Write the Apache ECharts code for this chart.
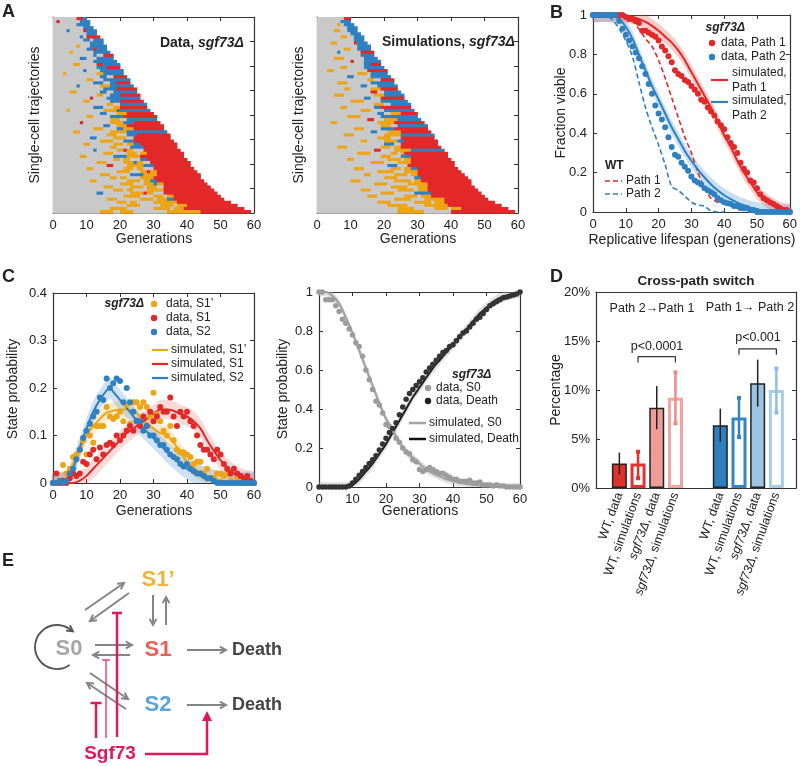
<!DOCTYPE html>
<html>
<head>
<meta charset="utf-8">
<script src="https://cdn.jsdelivr.net/npm/echarts@6.0.0/dist/echarts.min.js"></script>
<style>
  html, body { margin: 0; background: #fff; }
  #chart { width: 800px; height: 766px; }
</style>
</head>
<body>
<div id="chart"></div>
<script>
const FONT = '"Liberation Sans", Arial, Helvetica, sans-serif'
const INK = '#222'

// ---- A: single-cell trajectories, one string per cell (count + state: g=S0, o=S1', r=S1, b=S2)
const dataRows = [
  '7g 2r 1b', '1g 1r 6g 3b', '7g 4b', '9g 3b', '4g 1b 4g 1r 3b', '10g 3b', '8g 1b 1g 4r', '9g 2b 1g 3b',
  '11g 4b', '7g 1o 3g 5b', '10g 2b 1r 3b', '5g 1o 6g 5b', '12g 1b 2g 3r', '8g 2b 3g 5b', '12g 7b', '6g 2o 5g 2r 5b',
  '13g 3b 4r', '9g 1b 4g 7b', '3g 1o 9g 2o 6b', '14g 2b 2g 4r', '10g 2o 3g 8b', '12g 3b 2g 2b 4r', '7g 1b 6g 3o 7b', '15g 4b 6r',
  '5g 2o 7g 2b 2g 7b', '13g 2o 2g 3b 6r', '11g 1r 4g 10b', '9g 2o 6g 3b 7r', '16g 2o 2g 8b', '12g 3b 3g 2o 8r', '4g 1o 10g 4o 10b', '14g 2b 3g 3o 8r',
  '10g 2o 5g 4b 10r', '17g 3o 2g 9b', '8g 1r 8g 4o 3b 8r', '15g 2b 2g 3o 11r', '12g 3o 4g 2b 3o 9r', '6g 2o 9g 5o 12b', '16g 3o 3g 3b 10r', '11g 2b 5g 4o 2g 11r',
  '14g 4o 3g 3b 12r', '9g 2o 7g 3o 1g 2o 2b 11r', '17g 2o 4g 4b 10r', '12g 1b 6g 2o 1r 2o 3g 11r', '15g 3o 4g 3o 1g 2o 11r', '8g 2o 8g 4b 4o 13r', '18g 2o 1g 2o 3g 2b 12r', '13g 3o 5g 3o 1b 2o 2g 12r',
  '16g 2r 4g 5o 3b 11r', '10g 2o 9g 3o 1g 2o 3g 12r', '19g 4o 3g 2o 1r 2o 12r', '14g 3o 6g 4b 4o 13r', '17g 2o 1g 2o 4g 4o 14r', '11g 2o 9g 4o 1g 2o 2b 14r', '20g 4o 3g 3o 1b 2o 13r', '15g 3o 5g 4o 1g 3o 2g 14r',
  '18g 3o 1g 2o 4g 5o 15r', '13g 2b 8g 4o 1r 2o 3g 16r', '21g 5o 4g 3o 1g 2o 14r', '16g 3o 7g 4o 1g 3o 2b 15r', '19g 3o 1g 2o 5g 7o 16r', '22g 4o 6g 4o 1g 3o 15r', '17g 5o 8g 5o 1g 3o 18r', '14g 4o 2g 4o 10g 10o 15r'
]
const simRows = [
  '8g 2r', '7g 3b', '6g 1o 1g 3b', '9g 3b', '5g 2o 2g 3b', '10g 3b', '7g 2o 2g 3b', '11g 3b',
  '4g 2o 5g 1r 3b', '12g 4b', '8g 2o 2g 4b', '6g 1b 6g 4r', '13g 4b', '5g 3o 6g 4b', '10g 1r 3g 5b', '14g 2b 3r',
  '7g 2o 5g 6b', '3g 2o 10g 6r', '12g 3o 1g 5b', '9g 2b 5g 6b', '15g 2o 2g 4r', '6g 3o 7g 7b', '13g 2b 3g 6b', '8g 2o 6g 3o 5r',
  '16g 2r 2g 5b', '5g 3o 9g 3o 6b', '14g 2b 3g 7r', '10g 4o 5g 8b', '17g 3o 2g 6b', '7g 2o 8g 2b 9r', '13g 3o 4g 9b', '18g 2b 2g 3o 5r',
  '9g 4o 6g 11b', '15g 2r 3g 4o 7b', '4g 2o 12g 5o 9r', '19g 3o 2g 9b', '11g 3o 5g 4b 10r', '16g 2b 3g 4o 9r', '8g 3o 9g 5o 10b', '18g 4o 3g 10r',
  '13g 2o 5g 4o 2b 10r', '20g 3b 2g 11r', '6g 3o 10g 3o 1g 2o 12r', '17g 2r 4g 5o 10b', '12g 4o 6g 2o 1g 1o 13r', '19g 3o 3g 3b 11r', '9g 2o 10g 4o 1g 2o 12r', '16g 4o 4g 4o 13r',
  '21g 3b 3g 14r', '11g 3o 8g 3o 1g 2o 2b 12r', '18g 5o 3g 4o 13r', '14g 2o 7g 4o 1g 2o 14r', '20g 4o 5g 2b 14r', '10g 3o 10g 5o 1g 2o 15r', '17g 4o 6g 6o 13r', '22g 5o 3g 3o 14r',
  '13g 3o 8g 5o 1g 3o 15r', '19g 4o 6g 5b 15r', '15g 3o 8g 4o 1g 3o 16r', '23g 5o 4g 6o 13r', '18g 4o 7g 5o 1g 3o 15r', '21g 6o 5g 7o 16r', '24g 5o 6g 4o 1g 3o 14r', '24g 8o 8g 19r'
]

// ---- B: fraction viable (data one point per generation 0..60, simulations every 2 gens)
const bPath1 = [1, 1, 1, 1, 1, 1, 1, 1, 1, 1, 0.99, 0.98, 0.98, 0.97, 0.96, 0.92, 0.92, 0.91, 0.9, 0.89,
  0.87, 0.84, 0.82, 0.79, 0.76, 0.72, 0.7, 0.69, 0.67, 0.66, 0.64, 0.62, 0.6, 0.57, 0.56, 0.53, 0.51, 0.49, 0.46, 0.44,
  0.42, 0.38, 0.35, 0.33, 0.3, 0.25, 0.22, 0.2, 0.16, 0.15, 0.12, 0.09, 0.07, 0.06, 0.05, 0.04, 0.03, 0.02, 0.01, 0.01, 0]
const bPath2 = [1, 1, 1, 1, 1, 1, 1, 1, 0.97, 0.93, 0.9, 0.87, 0.84, 0.81, 0.78, 0.74, 0.7, 0.65, 0.6, 0.54,
  0.5, 0.47, 0.43, 0.38, 0.33, 0.29, 0.28, 0.25, 0.23, 0.21, 0.18, 0.16, 0.15, 0.14, 0.12, 0.11, 0.1, 0.09, 0.07, 0.06,
  0.05, 0.045, 0.04, 0.03, 0.03, 0.02, 0.02, 0.02, 0.01, 0.01, 0, 0, 0, 0, 0, 0, 0, 0, 0, 0, 0]
const simGens = [0, 2, 4, 6, 8, 10, 12, 14, 16, 18, 20, 22, 24, 26, 28, 30, 32, 34, 36, 38, 40, 42, 44, 46, 48, 50, 52, 54, 56, 58, 60]
const bSim1 = [1, 1, 1, 1, 1, 0.995, 0.99, 0.98, 0.965, 0.945, 0.92, 0.89, 0.86, 0.82, 0.77, 0.71, 0.65, 0.59, 0.53, 0.46,
  0.39, 0.33, 0.26, 0.2, 0.15, 0.1, 0.07, 0.045, 0.025, 0.012, 0.005]
const bSim2 = [1, 1, 1, 0.995, 0.98, 0.94, 0.88, 0.8, 0.72, 0.64, 0.57, 0.5, 0.43, 0.37, 0.31, 0.26, 0.215, 0.175, 0.14, 0.11,
  0.085, 0.065, 0.048, 0.034, 0.022, 0.014, 0.008, 0.005, 0.003, 0.001, 0]
const wtGens1 = [0, 2, 4, 6, 8, 10, 12, 14, 16, 18, 20, 22, 24, 26, 28, 30, 32, 34, 36, 38, 40, 42, 44, 46, 48, 50]
const wtPath1 = [1, 1, 1, 1, 1, 0.99, 0.97, 0.93, 0.88, 0.84, 0.77, 0.68, 0.58, 0.48, 0.38, 0.3, 0.2, 0.12, 0.07, 0.05,
  0.045, 0.04, 0.03, 0.02, 0.005, 0]
const wtGens2 = [0, 2, 4, 6, 8, 10, 12, 14, 16, 18, 20, 22, 24, 26, 28, 30, 32, 34, 36, 38, 40]
const wtPath2 = [1, 1, 0.995, 0.975, 0.93, 0.87, 0.79, 0.66, 0.53, 0.43, 0.34, 0.24, 0.13, 0.11, 0.08, 0.05, 0.035, 0.03, 0.005, 0, 0]

// ---- C: state probabilities
const cS1p = [0, 0, 0.005, 0.038, 0.02, 0.03, 0.055, 0.06, 0.07, 0.09, 0.06, 0.1, 0.085, 0.12, 0.12, 0.12, 0.16, 0.14, 0.135, 0.14,
  0.15, 0.13, 0.165, 0.125, 0.17, 0.17, 0.16, 0.17, 0.16, 0.14, 0.19, 0.145, 0.13, 0.11, 0.1, 0.12, 0.09, 0.07, 0.065, 0.065,
  0.06, 0.055, 0.04, 0.045, 0.045, 0.02, 0.03, 0.01, 0.01, 0.02, 0.02, 0.015, 0.02, 0.005, 0, 0.01, 0, 0, 0, 0, 0]
const cS1 = [0, 0.02, 0, 0.005, 0, 0.01, 0.02, 0.015, 0.02, 0.045, 0.04, 0.06, 0.07, 0.05, 0.075, 0.06, 0.08, 0.085, 0.08, 0.1,
  0.09, 0.1, 0.11, 0.12, 0.11, 0.13, 0.12, 0.14, 0.12, 0.15, 0.13, 0.14, 0.16, 0.15, 0.15, 0.18, 0.14, 0.12, 0.15, 0.14,
  0.15, 0.13, 0.12, 0.1, 0.08, 0.07, 0.07, 0.06, 0.05, 0.07, 0.06, 0.04, 0.03, 0.02, 0.03, 0.02, 0.015, 0.01, 0.015, 0.005, 0]
const cS2 = [0, 0, 0.005, 0, 0.005, 0.02, 0.03, 0.05, 0.07, 0.095, 0.11, 0.125, 0.14, 0.15, 0.18, 0.175, 0.22, 0.2, 0.21, 0.22,
  0.215, 0.17, 0.2, 0.17, 0.15, 0.13, 0.13, 0.11, 0.12, 0.1, 0.1, 0.09, 0.08, 0.08, 0.07, 0.06, 0.055, 0.05, 0.04, 0.035,
  0.04, 0.03, 0.025, 0.02, 0.02, 0.015, 0.01, 0.01, 0.005, 0, 0, 0, 0, 0, 0, 0, 0, 0, 0, 0, 0]
const cSimGensA = [0, 4, 6, 8, 10, 12, 14, 16, 18, 20, 22, 24, 26, 28, 30, 32, 34, 36, 38, 40, 42, 44, 46, 48, 50, 55, 60]
const cSimS1p = [0, 0.01, 0.04, 0.07, 0.1, 0.12, 0.135, 0.148, 0.152, 0.155, 0.155, 0.152, 0.14, 0.125, 0.115, 0.105, 0.1, 0.085,
  0.065, 0.045, 0.032, 0.022, 0.015, 0.01, 0.006, 0.002, 0]
const cSimGensB = [0, 6, 8, 10, 12, 14, 16, 18, 20, 22, 24, 26, 28, 30, 32, 34, 36, 38, 40, 42, 44, 46, 48, 50, 52, 54, 56, 58, 60]
const cSimS1 = [0, 0, 0.005, 0.015, 0.03, 0.045, 0.06, 0.075, 0.09, 0.105, 0.115, 0.125, 0.135, 0.145, 0.155, 0.155, 0.152, 0.145,
  0.14, 0.13, 0.115, 0.09, 0.068, 0.048, 0.032, 0.02, 0.012, 0.007, 0.004]
const cSimGensC = [0, 4, 6, 8, 10, 12, 14, 16, 17, 18, 20, 22, 24, 26, 28, 30, 32, 34, 36, 38, 40, 42, 44, 46, 48, 50, 55, 60]
const cSimS2 = [0, 0.003, 0.03, 0.075, 0.115, 0.15, 0.175, 0.195, 0.2, 0.192, 0.175, 0.158, 0.14, 0.123, 0.108, 0.094, 0.08, 0.065,
  0.052, 0.04, 0.03, 0.022, 0.015, 0.01, 0.006, 0.003, 0.001, 0]
const cS0 = [1, 1, 0.96, 0.96, 0.96, 0.93, 0.9, 0.86, 0.84, 0.81, 0.78, 0.74, 0.72, 0.67, 0.6, 0.55, 0.5, 0.44, 0.42, 0.38,
  0.32, 0.31, 0.29, 0.25, 0.23, 0.2, 0.18, 0.17, 0.14, 0.13, 0.09, 0.08, 0.09, 0.1, 0.09, 0.08, 0.07, 0.07, 0.06, 0.05,
  0.04, 0.04, 0.03, 0.03, 0.03, 0.035, 0.02, 0.02, 0.026, 0.01, 0.01, 0.01, 0.005, 0.01, 0.005, 0.005, 0, 0, 0, 0, 0]
const cDeath = [0, 0, 0, 0, 0, 0, 0, 0, 0, 0.005, 0.02, 0.04, 0.06, 0.08, 0.1, 0.12, 0.14, 0.16, 0.19, 0.22,
  0.25, 0.28, 0.3, 0.33, 0.37, 0.41, 0.45, 0.48, 0.5, 0.52, 0.54, 0.56, 0.59, 0.61, 0.63, 0.65, 0.67, 0.69, 0.7, 0.72,
  0.73, 0.75, 0.77, 0.79, 0.8, 0.82, 0.84, 0.86, 0.87, 0.89, 0.91, 0.93, 0.94, 0.95, 0.96, 0.97, 0.975, 0.98, 0.985, 0.99, 1]
const cSimS0 = [1, 1, 0.98, 0.94, 0.87, 0.79, 0.7, 0.61, 0.52, 0.43, 0.35, 0.29, 0.23, 0.18, 0.15, 0.12, 0.09, 0.07, 0.055, 0.04,
  0.03, 0.022, 0.016, 0.011, 0.008, 0.005, 0.003, 0.002, 0.001, 0.0005, 0]
const cSimDeath = [0, 0, 0, 0, 0, 0.01, 0.04, 0.08, 0.12, 0.17, 0.22, 0.28, 0.34, 0.4, 0.46, 0.51, 0.56, 0.61, 0.65, 0.69,
  0.73, 0.77, 0.81, 0.85, 0.89, 0.92, 0.95, 0.97, 0.98, 0.99, 1]

// ---- D: cross-path switch (%)
const dNames = ['WT, data', 'WT, simulations', 'sgf73Δ, data', 'sgf73Δ, simulations',
  'WT, data', 'WT, simulations', 'sgf73Δ, data', 'sgf73Δ, simulations']
const dValue = [2.5, 2.5, 8.2, 9.2, 6.4, 7.2, 10.7, 10.0]
const dLow = [1.4, 1.0, 6.0, 6.6, 4.7, 5.2, 8.3, 7.7]
const dHigh = [3.6, 3.7, 10.4, 11.8, 8.1, 9.2, 13.1, 12.2]

// layout of the bar slots and styles
const barSlots = [1, 2, 3, 4, 6.4, 7.4, 8.4, 9.4]
const RED = '#e3282a', BLUE = '#2f80c1', ORANGE = '#eda416'
const stateFill = ['#c9c9c9', ORANGE, RED, BLUE]
const barStyles = [
  { color: '#e0302a', borderColor: '#222', borderWidth: 1.5 },
  { color: '#fff', borderColor: '#e53030', borderWidth: 3 },
  { color: '#ef9c98', borderColor: '#222', borderWidth: 1.5 },
  { color: '#fff', borderColor: '#f3a3a0', borderWidth: 3 },
  { color: '#2f7fbf', borderColor: '#222', borderWidth: 1.5 },
  { color: '#fff', borderColor: '#3585c5', borderWidth: 3 },
  { color: '#9bc3e3', borderColor: '#222', borderWidth: 1.5 },
  { color: '#fff', borderColor: '#a8cce8', borderWidth: 3 }
]
const errColors = ['#222', '#e53030', '#222', '#f08a8a', '#222', '#3585c5', '#222', '#8fbde3']

const grids = [], xAxes = [], yAxes = [], series = []
const axLine = { onZero: false, lineStyle: { color: '#333', width: 1.2 } }
const axTick = { inside: true, length: 4, lineStyle: { color: '#333', width: 1 } }
const axLabel = { color: INK, fontSize: 13, fontFamily: FONT, margin: 6 }

function panel(rect, xr, yr, showYLabels) {
  const g = grids.length
  grids.push({ left: rect[0], top: rect[1], width: rect[2], height: rect[3] })
  const base = { gridIndex: g, type: 'value', axisLine: axLine, axisTick: axTick, splitLine: { show: false } }
  xAxes.push(Object.assign({}, base, { position: 'bottom', axisLabel: axLabel }, xr))
  xAxes.push(Object.assign({}, base, { position: 'top' }, xr, { axisLabel: { show: false } }))
  yAxes.push(Object.assign({}, base, { position: 'left', axisLabel: Object.assign({ show: showYLabels }, axLabel) }, yr))
  yAxes.push(Object.assign({}, base, { position: 'right' }, yr, { axisLabel: { show: false } }))
  return g
}

function segments(rows) {
  const out = []
  rows.forEach((row, i) => {
    let x = 0
    row.split(' ').forEach((tok) => {
      const n = parseInt(tok, 10)
      out.push([x, i, n, 'gorb'.indexOf(tok.slice(-1))])
      x += n
    })
  })
  return out
}

function trajSeries(g, rows) {
  return {
    type: 'custom', xAxisIndex: 2 * g, yAxisIndex: 2 * g, silent: true,
    data: segments(rows), encode: { x: 0, y: 1 },
    renderItem: (params, api) => {
      const x0 = api.value(0), r = api.value(1), n = api.value(2)
      const p1 = api.coord([x0, r]), p2 = api.coord([x0 + n, r + 1])
      return {
        type: 'rect',
        shape: { x: p1[0], y: Math.min(p1[1], p2[1]), width: p2[0] - p1[0] + 0.4, height: Math.abs(p2[1] - p1[1]) + 0.8 },
        style: { fill: stateFill[api.value(3)] }
      }
    }
  }
}

function pairs(xs, ys) { return ys.map((y, i) => [xs[i], y]) }
function gens(ys) { return ys.map((y, i) => [i, y]) }

function band(g, xs, ys, w, color, hiCap) {
  return {
    type: 'custom', xAxisIndex: 2 * g, yAxisIndex: 2 * g, silent: true, z: 1,
    data: [[xs[0], ys[0]]],
    renderItem: (params, api) => {
      const up = xs.map((x, i) => api.coord([x, Math.min(ys[i] + w, hiCap)]))
      const dn = xs.map((x, i) => api.coord([x, Math.max(ys[i] - w, 0)])).reverse()
      return { type: 'polygon', shape: { points: up.concat(dn), smooth: 0.3 }, style: { fill: color } }
    }
  }
}
function simLine(g, xs, ys, color, width, dash) {
  return {
    type: 'line', xAxisIndex: 2 * g, yAxisIndex: 2 * g, data: pairs(xs, ys), showSymbol: false, silent: true,
    smooth: 0.3, z: 3, lineStyle: { color, width, type: dash || 'solid' }
  }
}
function dots(g, ys, color, size) {
  return {
    type: 'scatter', xAxisIndex: 2 * g, yAxisIndex: 2 * g, data: gens(ys), symbolSize: size || 6, silent: true,
    z: 4, itemStyle: { color, opacity: 1 }
  }
}

// panels
const gA1 = panel([53, 17, 201, 196], { min: 0, max: 60, interval: 10 }, { min: 0, max: 64, interval: 8, inverse: true }, false)
const gA2 = panel([317, 17, 201, 196], { min: 0, max: 60, interval: 10 }, { min: 0, max: 64, interval: 8, inverse: true }, false)
const gB = panel([593, 15, 199, 197], { min: 0, max: 60, interval: 10 }, { min: 0, max: 1, interval: 0.2 }, true)
const gC1 = panel([53, 293, 201, 190], { min: 0, max: 60, interval: 10 }, { min: 0, max: 0.4, interval: 0.1 }, true)
const gC2 = panel([319, 292, 201, 195], { min: 0, max: 60, interval: 10 }, { min: 0, max: 1, interval: 0.2 }, true)
const gD = panel([596, 292, 200, 196], { min: -0.25, max: 10.45 }, { min: 0, max: 20, interval: 5 }, true)

// D axes tweaks
xAxes[2 * gD].axisTick = { show: false }
xAxes[2 * gD].axisLabel = {
  customValues: barSlots, rotate: 70, margin: 5, color: INK, fontSize: 12.5, fontFamily: FONT,
  formatter: (v) => {
    const name = dNames[barSlots.findIndex((s) => Math.abs(s - v) < 1e-6)] || ''
    return name.replace('sgf73Δ', '{i|sgf73Δ}')
  },
  rich: { i: { fontStyle: 'italic', fontSize: 12.5, fontFamily: FONT, color: INK } }
}
xAxes[2 * gD + 1].axisTick = { show: false }
yAxes[2 * gD].axisLabel = Object.assign({}, axLabel, { formatter: '{value}%' })

series.push(trajSeries(gA1, dataRows), trajSeries(gA2, simRows))

series.push(
  band(gB, simGens, bSim1, 0.035, 'rgba(232,70,60,0.28)', 1),
  band(gB, simGens, bSim2, 0.035, 'rgba(60,140,210,0.28)', 1),
  simLine(gB, wtGens1, wtPath1, RED, 1.6, [5, 3]),
  simLine(gB, wtGens2, wtPath2, BLUE, 1.6, [5, 3]),
  simLine(gB, simGens, bSim1, RED, 2),
  simLine(gB, simGens, bSim2, BLUE, 2),
  dots(gB, bPath1, RED, 6),
  dots(gB, bPath2, BLUE, 6)
)

series.push(
  band(gC1, cSimGensA, cSimS1p, 0.018, 'rgba(240,170,40,0.25)', 1),
  band(gC1, cSimGensB, cSimS1, 0.02, 'rgba(232,70,60,0.2)', 1),
  band(gC1, cSimGensC, cSimS2, 0.022, 'rgba(60,140,210,0.25)', 1),
  simLine(gC1, cSimGensA, cSimS1p, ORANGE, 2),
  simLine(gC1, cSimGensB, cSimS1, RED, 2),
  simLine(gC1, cSimGensC, cSimS2, BLUE, 2),
  dots(gC1, cS1p, ORANGE),
  dots(gC1, cS1, RED),
  dots(gC1, cS2, BLUE)
)

series.push(
  band(gC2, simGens, cSimS0, 0.02, 'rgba(170,170,170,0.35)', 1),
  band(gC2, simGens, cSimDeath, 0.025, 'rgba(170,170,170,0.35)', 1),
  simLine(gC2, simGens, cSimS0, '#a3a3a3', 2.2),
  simLine(gC2, simGens, cSimDeath, '#1e1e1e', 2),
  dots(gC2, cS0, '#9c9c9c', 5.5),
  dots(gC2, cDeath, '#333', 5.5)
)

series.push(
  {
    type: 'bar', xAxisIndex: 2 * gD, yAxisIndex: 2 * gD, barWidth: 15, silent: true, z: 2,
    data: dValue.map((v, i) => ({ value: [barSlots[i], v], itemStyle: barStyles[i] }))
  },
  {
    type: 'custom', xAxisIndex: 2 * gD, yAxisIndex: 2 * gD, silent: true, z: 5,
    data: dValue.map((v, i) => [barSlots[i], dLow[i], dHigh[i], i]),
    renderItem: (params, api) => {
      const i = api.value(3)
      const lo = api.coord([api.value(0), api.value(1)])
      const hi = api.coord([api.value(0), api.value(2)])
      const sim = i % 2 === 1
      const kids = [{ type: 'line', shape: { x1: lo[0], y1: lo[1], x2: hi[0], y2: hi[1] }, style: { stroke: errColors[i], lineWidth: sim ? 2.5 : 1.5 } }]
      if (sim) {
        kids.push({ type: 'rect', shape: { x: lo[0] - 2, y: lo[1] - 2, width: 4, height: 4 }, style: { fill: errColors[i] } })
        kids.push({ type: 'rect', shape: { x: hi[0] - 2, y: hi[1] - 2, width: 4, height: 4 }, style: { fill: errColors[i] } })
      }
      return { type: 'group', children: kids }
    }
  },
  {
    type: 'line', xAxisIndex: 2 * gD, yAxisIndex: 2 * gD, silent: true, showSymbol: false, z: 6,
    lineStyle: { color: '#333', width: 1.2 }, data: [[2, 12.8], [2, 13.4], [4, 13.4], [4, 12.8]]
  },
  {
    type: 'line', xAxisIndex: 2 * gD, yAxisIndex: 2 * gD, silent: true, showSymbol: false, z: 6,
    lineStyle: { color: '#333', width: 1.2 }, data: [[7.4, 13.6], [7.4, 14.2], [9.4, 14.2], [9.4, 13.6]]
  }
)

// ---- text and diagram elements
function txt(x, y, text, o) {
  o = o || {}
  return {
    type: 'text', x, y, rotation: o.rot || 0, silent: true, z: 10,
    style: {
      text, fill: o.color || INK, fontSize: o.size || 13, fontFamily: FONT,
      fontWeight: o.weight || 'normal', fontStyle: o.italic ? 'italic' : 'normal',
      align: o.align || 'left', verticalAlign: o.valign || 'middle', rich: o.rich
    }
  }
}
const richSgf = (size) => ({
  n: { fontWeight: 'bold', fontSize: size, fontFamily: FONT, fill: INK, color: INK },
  i: { fontWeight: 'bold', fontStyle: 'italic', fontSize: size, fontFamily: FONT, fill: INK, color: INK }
})
function dot(cx, cy, color) { return { type: 'circle', silent: true, z: 10, shape: { cx, cy, r: 3.2 }, style: { fill: color } } }
function seg(x1, y1, x2, y2, color, lw, dash) {
  return { type: 'line', silent: true, z: 10, shape: { x1, y1, x2, y2 }, style: { stroke: color, lineWidth: lw || 2, lineDash: dash || null } }
}
function arrow(x1, y1, x2, y2, color, lw) {
  const a = Math.atan2(y2 - y1, x2 - x1), h = 7, s = 0.5
  return [
    seg(x1, y1, x2, y2, color, lw),
    { type: 'polyline', silent: true, z: 10, shape: { points: [[x2 - h * Math.cos(a - s), y2 - h * Math.sin(a - s)], [x2, y2], [x2 - h * Math.cos(a + s), y2 - h * Math.sin(a + s)]] },
      style: { stroke: color, lineWidth: lw, fill: 'none' } }
  ]
}
function tbar(x, y1, y2, half, lw) {
  return [seg(x, y2, x, y1, MAG, lw), seg(x - half, y1, x + half, y1, MAG, lw)]
}
const GRAY = '#858585', MAG = '#e0185c'
const LEG = 12

const elements = [
  txt(2, 3, 'A', { size: 18, weight: 'bold', valign: 'top' }),
  txt(550, 4, 'B', { size: 18, weight: 'bold', valign: 'top' }),
  txt(2, 268, 'C', { size: 18, weight: 'bold', valign: 'top' }),
  txt(550, 268, 'D', { size: 18, weight: 'bold', valign: 'top' }),
  txt(2, 552, 'E', { size: 18, weight: 'bold', valign: 'top' }),

  txt(244, 43, '{n|Data, }{i|sgf73Δ}', { align: 'right', rich: richSgf(14) }),
  txt(515, 42, '{n|Simulations, }{i|sgf73Δ}', { align: 'right', rich: richSgf(14) }),
  txt(35, 115, 'Single-cell trajectories', { size: 14, align: 'center', rot: Math.PI / 2 }),
  txt(299, 115, 'Single-cell trajectories', { size: 14, align: 'center', rot: Math.PI / 2 }),
  txt(154, 239, 'Generations', { size: 14, align: 'center' }),
  txt(418, 239, 'Generations', { size: 14, align: 'center' }),

  txt(692, 240, 'Replicative lifespan (generations)', { size: 14, align: 'center' }),
  txt(561, 113, 'Fraction viable', { size: 14, align: 'center', rot: Math.PI / 2 }),
  txt(745, 28, 'sgf73Δ', { size: LEG, weight: 'bold', italic: true, align: 'right' }),
  dot(712, 43, RED), txt(721, 43, 'data, Path 1', { size: LEG }),
  dot(712, 57, BLUE), txt(721, 57, 'data, Path 2', { size: LEG }),
  seg(711, 80, 728, 80, RED, 2.2), txt(732, 73, 'simulated,', { size: LEG }), txt(732, 88, 'Path 1', { size: LEG }),
  seg(711, 102, 728, 102, BLUE, 2.2), txt(732, 101, 'simulated,', { size: LEG }), txt(732, 116, 'Path 2', { size: LEG }),
  txt(605, 166, 'WT', { size: LEG, weight: 'bold' }),
  seg(605, 181, 622, 181, RED, 1.6, [5, 3]), txt(626, 181, 'Path 1', { size: LEG }),
  seg(605, 194, 622, 194, BLUE, 1.6, [5, 3]), txt(626, 194, 'Path 2', { size: LEG }),

  txt(13, 389, 'State probability', { size: 14, align: 'center', rot: Math.PI / 2 }),
  txt(283, 389, 'State probability', { size: 14, align: 'center', rot: Math.PI / 2 }),
  txt(154, 511, 'Generations', { size: 14, align: 'center' }),
  txt(420, 511, 'Generations', { size: 14, align: 'center' }),
  txt(144, 304, 'sgf73Δ', { size: LEG, weight: 'bold', italic: true, align: 'right' }),
  dot(154, 304, ORANGE), txt(166, 304, 'data, S1’', { size: LEG }),
  dot(154, 318, RED), txt(166, 318, 'data, S1', { size: LEG }),
  dot(154, 332, BLUE), txt(166, 332, 'data, S2', { size: LEG }),
  seg(152, 350, 168, 350, ORANGE, 2.2), txt(171, 350, 'simulated, S1’', { size: LEG }),
  seg(152, 364, 168, 364, RED, 2.2), txt(171, 364, 'simulated, S1', { size: LEG }),
  seg(152, 378, 168, 378, BLUE, 2.2), txt(171, 378, 'simulated, S2', { size: LEG }),

  txt(452, 375, 'sgf73Δ', { size: LEG, weight: 'bold', italic: true }),
  dot(428, 388, '#9c9c9c'), txt(436, 388, 'data, S0', { size: LEG }),
  dot(428, 401, '#222'), txt(436, 401, 'data, Death', { size: LEG }),
  seg(409, 423, 426, 423, '#a3a3a3', 2.5), txt(429, 423, 'simulated, S0', { size: LEG }),
  seg(409, 439, 426, 439, '#111', 2.5), txt(429, 439, 'simulated, Death', { size: LEG }),

  txt(556, 390, 'Percentage', { size: 14, align: 'center', rot: Math.PI / 2 }),
  txt(696, 281, 'Cross-path switch', { size: 13.5, weight: 'bold', align: 'center' }),
  txt(652, 309, 'Path 2→Path 1', { size: 12.5, align: 'center' }),
  txt(750, 308, 'Path 1→ Path 2', { size: 12.5, align: 'center' }),
  txt(657, 347, 'p<0.0001', { size: 12.5, align: 'center' }),
  txt(758, 338, 'p<0.001', { size: 12.5, align: 'center' }),

  // E diagram
  txt(158, 580, 'S1’', { size: 22, weight: 'bold', align: 'center', color: '#f0b43c' }),
  txt(69, 649, 'S0', { size: 22, weight: 'bold', align: 'center', color: '#a6a6a6' }),
  txt(158, 650, 'S1', { size: 22, weight: 'bold', align: 'center', color: '#e8605a' }),
  txt(158, 705, 'S2', { size: 22, weight: 'bold', align: 'center', color: '#5ba3d9' }),
  txt(232, 650, 'Death', { size: 18, weight: 'bold', color: '#444' }),
  txt(232, 705, 'Death', { size: 18, weight: 'bold', color: '#444' }),
  txt(110, 754, 'Sgf73', { size: 19, weight: 'bold', align: 'center', color: MAG }),
  { type: 'arc', silent: true, z: 10, shape: { cx: 57, cy: 647, r: 22, startAngle: 55 * Math.PI / 180, endAngle: 303 * Math.PI / 180, clockwise: true },
    style: { stroke: '#555', lineWidth: 1.8, fill: 'none' } },
  ...arrow(68, 628, 73, 631.5, '#555', 1.8)
]
;[
  [85, 610, 124, 583], [129, 593, 90, 621], [153, 595, 153, 625], [166, 625, 166, 597],
  [95, 645, 132, 645], [130, 655, 93, 655], [90, 673, 128, 699], [126, 709, 87, 683],
  [187, 650, 226, 650], [187, 705, 226, 705]
].forEach((p) => elements.push(...arrow(p[0], p[1], p[2], p[3], GRAY, 2)))
elements.push(
  ...tbar(117, 613, 737, 5, 2.5),
  ...tbar(106, 660, 738, 4, 1.2),
  ...tbar(96, 703, 738, 5.5, 2.5),
  { type: 'polyline', silent: true, z: 10, shape: { points: [[145, 754], [207, 754], [207, 719]] }, style: { stroke: MAG, lineWidth: 2.5, fill: 'none' } },
  { type: 'polygon', silent: true, z: 10, shape: { points: [[207, 711], [202, 721], [212, 721]] }, style: { fill: MAG } }
)

const chart = echarts.init(document.getElementById('chart'), null, { renderer: 'canvas' })
chart.setOption({
  animation: false,
  backgroundColor: '#fff',
  textStyle: { fontFamily: FONT },
  grid: grids,
  xAxis: xAxes,
  yAxis: yAxes,
  series: series,
  graphic: { elements }
})
</script>
</body>
</html>
